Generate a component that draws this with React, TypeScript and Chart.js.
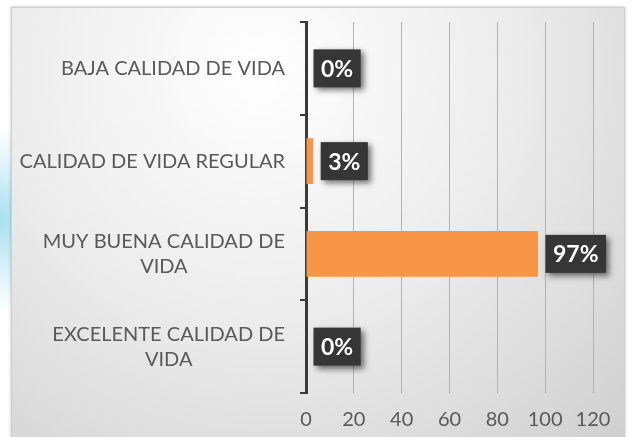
import React, { useEffect, useRef } from "react";
import { Chart, registerables } from "chart.js";

Chart.register(...registerables);

const categories: string[][] = [
  ["BAJA CALIDAD DE VIDA"],
  ["CALIDAD DE VIDA REGULAR"],
  ["MUY BUENA CALIDAD DE", "VIDA"],
  ["EXCELENTE CALIDAD DE", "VIDA"],
];
const values: number[] = [0, 3, 97, 0];
const valueLabels: string[] = ["0%", "3%", "97%", "0%"];
const xMin = 0;
const xMax = 120;
const xStep = 20;

const LABEL_FONT = "20px Lato";
const TEXT_COLOR = "#595959";

const backgroundPlugin = {
  id: "bgFrame",
  beforeDraw(chart: any) {
    const ctx = chart.ctx as CanvasRenderingContext2D;
    const w = chart.width;
    const h = chart.height;
    ctx.save();
    ctx.fillStyle = "#ffffff";
    ctx.fillRect(0, 0, w, h);
    // left cyan glow
    const glow = ctx.createRadialGradient(0, 220, 0, 0, 220, 90);
    glow.addColorStop(0, "rgba(140,215,235,0.75)");
    glow.addColorStop(1, "rgba(140,215,235,0)");
    ctx.fillStyle = glow;
    ctx.fillRect(0, 100, 12, 240);
    // frame
    const fx = 11, fy = 7, fw = 625 - 11, fh = h - 7 + 2;
    const g = ctx.createRadialGradient(260, 70, 0, 260, 70, 560);
    g.addColorStop(0, "#ffffff");
    g.addColorStop(0.45, "#ececec");
    g.addColorStop(1, "#cbcbcb");
    ctx.shadowColor = "rgba(0,0,0,0.25)";
    ctx.shadowBlur = 3;
    ctx.fillStyle = g;
    ctx.fillRect(fx, fy, fw, fh);
    ctx.shadowColor = "transparent";
    ctx.strokeStyle = "#cfcfcf";
    ctx.lineWidth = 1;
    ctx.strokeRect(fx + 0.5, fy + 0.5, fw - 1, fh);
    ctx.restore();
  },
};

const categoryLabelPlugin = {
  id: "catLabels",
  afterDraw(chart: any) {
    const ctx = chart.ctx as CanvasRenderingContext2D;
    const yScale = chart.scales.y;
    const rightEdge = chart.chartArea.left - 21;
    const lineH = 25;
    ctx.save();
    ctx.font = LABEL_FONT;
    ctx.fillStyle = TEXT_COLOR;
    ctx.textAlign = "center";
    ctx.textBaseline = "middle";
    categories.forEach((lines, i) => {
      const yc = yScale.getPixelForValue(i);
      const blockW = Math.max(...lines.map((l) => ctx.measureText(l).width));
      const cx = rightEdge - blockW / 2;
      const y0 = yc - ((lines.length - 1) * lineH) / 2;
      lines.forEach((l, j) => ctx.fillText(l, cx, y0 + j * lineH));
    });
    ctx.restore();
  },
};

const valueLabelPlugin = {
  id: "valLabels",
  afterDatasetsDraw(chart: any) {
    const ctx = chart.ctx as CanvasRenderingContext2D;
    const meta = chart.getDatasetMeta(0);
    ctx.save();
    ctx.font = "bold 23px Lato";
    meta.data.forEach((bar: any, i: number) => {
      const text = valueLabels[i];
      const tw = ctx.measureText(text).width;
      const bw = tw + 15;
      const bh = 38;
      const bx = bar.x + 7.5;
      const by = bar.y - bh / 2;
      ctx.shadowColor = "rgba(0,0,0,0.55)";
      ctx.shadowBlur = 6;
      ctx.shadowOffsetX = 3;
      ctx.shadowOffsetY = 3;
      ctx.fillStyle = "#363636";
      ctx.fillRect(bx, by, bw, bh);
      ctx.shadowColor = "transparent";
      ctx.fillStyle = "#ffffff";
      ctx.textAlign = "center";
      ctx.textBaseline = "middle";
      ctx.fillText(text, bx + bw / 2, bar.y + 1);
    });
    ctx.restore();
  },
};

export default function App() {
  const ref = useRef<HTMLCanvasElement | null>(null);
  useEffect(() => {
    if (!ref.current) return;
    const chart = new Chart(ref.current, {
      type: "bar",
      data: {
        labels: categories.map((c) => c.join(" ")),
        datasets: [
          {
            data: values,
            backgroundColor: "#f79646",
            borderWidth: 0,
            categoryPercentage: 1,
            barPercentage: 0.495,
          },
        ],
      },
      options: {
        indexAxis: "y",
        animation: false,
        responsive: false,
        maintainAspectRatio: false,
        layout: { padding: { left: 11, top: 22, right: 40, bottom: 3 } },
        plugins: {
          legend: { display: false },
          tooltip: { enabled: false },
        },
        scales: {
          x: {
            min: xMin,
            max: xMax,
            ticks: {
              stepSize: xStep,
              color: TEXT_COLOR,
              font: { family: "Lato", size: 20 },
              padding: 15,
            },
            grid: {
              color: "#b3b3b3",
              lineWidth: 1,
              drawTicks: false,
            },
            border: { display: false },
            afterFit: (s: any) => {
              s.height = 41;
            },
          },
          y: {
            ticks: { display: false },
            grid: {
              drawOnChartArea: false,
              drawTicks: true,
              tickLength: 6,
              color: "#3a3a3a",
              lineWidth: 2,
              offset: true,
            },
            border: { display: true, color: "#3a3a3a", width: 3 },
            afterFit: (s: any) => {
              s.width = 295;
            },
          },
        },
      },
      plugins: [backgroundPlugin, categoryLabelPlugin, valueLabelPlugin],
    });
    return () => chart.destroy();
  }, []);
  return (
    <div style={{ position: "fixed", left: 0, top: 0, width: 633, height: 437 }}>
      <canvas ref={ref} width={633} height={437} style={{ display: "block" }} />
    </div>
  );
}
